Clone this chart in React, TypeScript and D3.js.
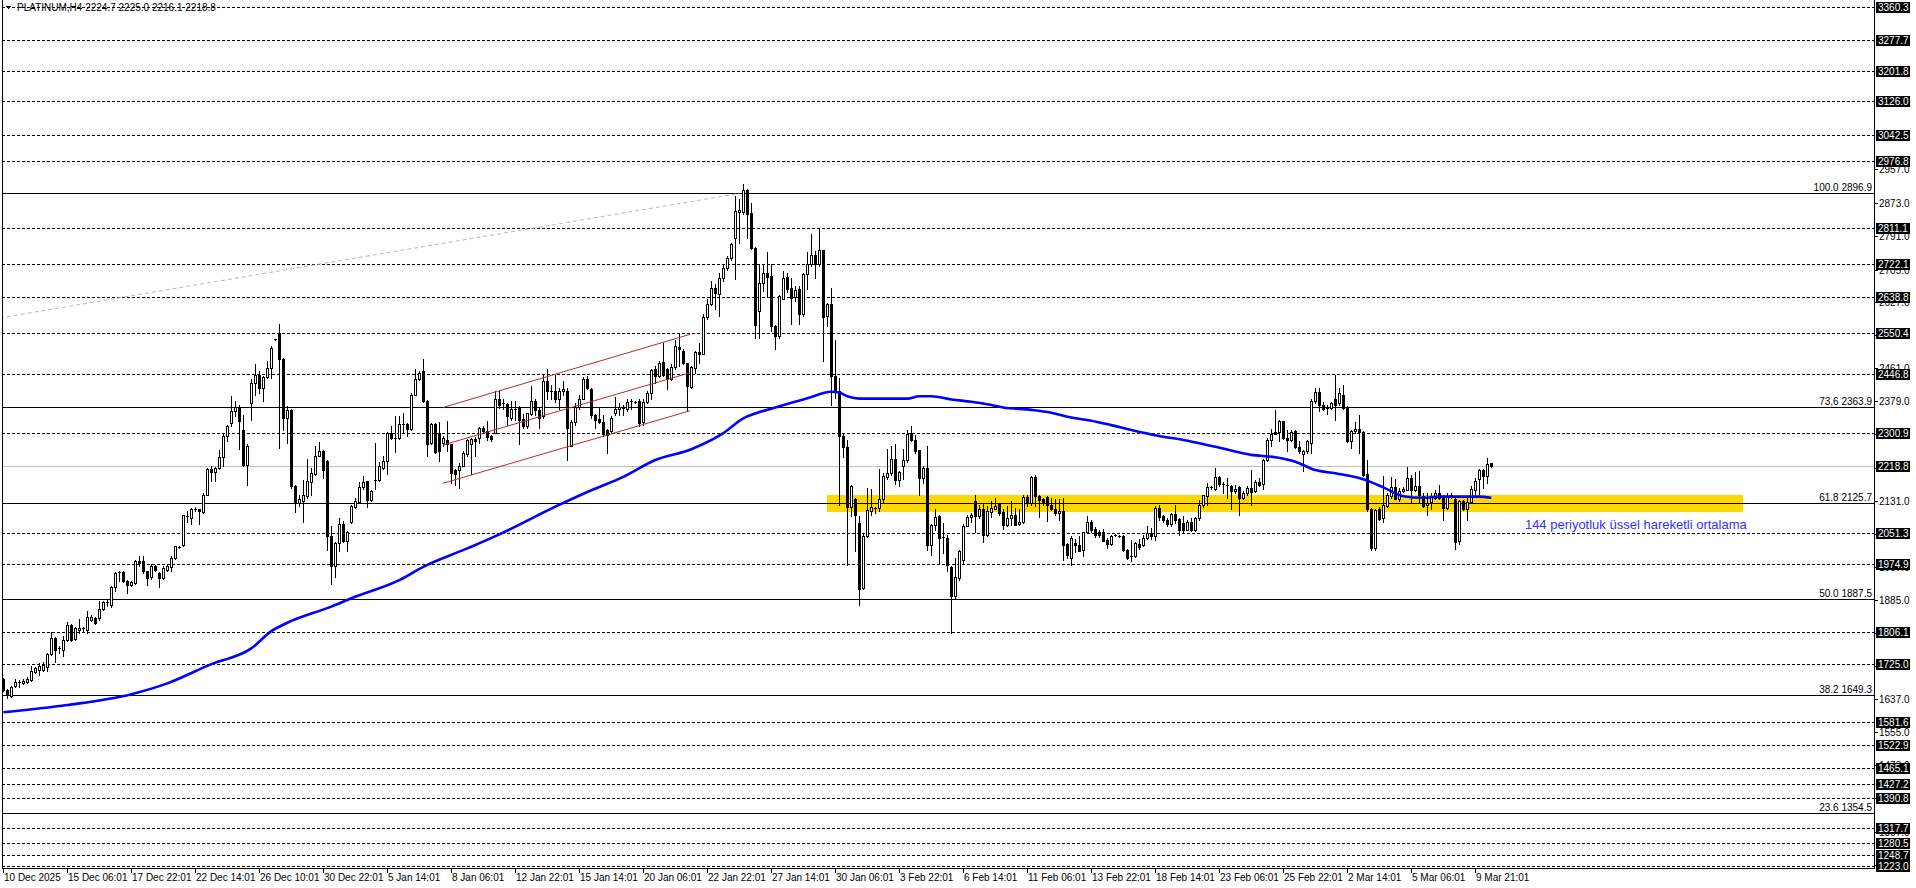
import React from 'react';
import * as d3 from 'd3';

// ---------------- DATA ----------------
const SYMBOL_HEADER = 'PLATINUM,H4  2224.7 2225.0 2216.1 2218.8';

const opens = [
1688,1661,1646,1671,1677,1678,1680,1686,1706,1711,
1711,1717,1750,1789,1762,1760,1785,1823,1787,1811,
1812,1810,1836,1839,1839,1863,1876,1873,1917,1951,
1954,1933,1922,1927,1981,1981,1956,1942,1968,1952,
1939,1960,1966,1989,2016,2021,2091,2089,2110,2110,
2103,2147,2211,2204,2213,2241,2294,2325,2356,2366,
2309,2220,2376,2425,2445,2413,2440,2463,2533,2550,
2485,2337,2357,2168,2125,2130,2143,2179,2199,2244,
2255,2230,2043,1970,2027,2075,2031,2078,2116,2129,
2166,2180,2133,2182,2184,2214,2230,2301,2288,2288,
2322,2323,2311,2396,2434,2455,2381,2276,2323,2301,
2276,2282,2272,2208,2208,2219,2249,2274,2286,2288,
2313,2305,2294,2301,2385,2372,2373,2338,2359,2365,
2336,2317,2348,2381,2357,2342,2431,2405,2405,2384,
2406,2405,2269,2328,2366,2386,2434,2410,2346,2336,
2328,2307,2305,2349,2359,2363,2359,2378,2378,2381,
2328,2378,2400,2459,2442,2478,2459,2435,2465,2514,
2504,2474,2415,2463,2502,2498,2588,2621,2662,2647,
2687,2711,2735,2787,2850,2851,2906,2848,2762,2604,
2675,2698,2691,2567,2542,2635,2689,2661,2639,2658,
2596,2696,2721,2743,2721,2755,2591,2621,2442,2405,
2294,2266,2116,2135,2076,1914,2045,2105,2112,2114,
2135,2191,2201,2236,2183,2218,2234,2301,2282,2257,
2189,2212,2021,2072,2093,2041,2039,1966,1894,1939,
1983,2070,2091,2132,2093,2111,2047,2103,2111,2126,
2103,2072,2089,2095,2075,2079,2141,2125,2191,2143,
2135,2141,2120,2111,2100,2105,2025,1989,2026,2022,
2010,2053,2078,2061,2053,2053,2033,2025,2044,2043,
2045,2010,1993,1993,2025,2022,2039,2051,2045,2114,
2093,2085,2075,2099,2087,2076,2060,2079,2060,2089,
2122,2143,2164,2162,2191,2174,2172,2169,2155,2166,
2139,2151,2164,2155,2179,2174,2233,2282,2304,2302,
2330,2288,2282,2305,2266,2247,2255,2276,2380,2402,
2371,2363,2363,2384,2376,2396,2363,2280,2305,2311,
2303,2199,2111,2014,2110,2089,2118,2143,2166,2136,
2155,2159,2189,2158,2169,2143,2120,2128,2139,2150,
2139,2114,2143,2136,2031,2130,2110,2128,2159,2186,
2209,2193,2224.7];

const highs = [
1690,1663,1671,1688,1686,1689,1694,1720,1718,1727,
1729,1752,1804,1792,1769,1794,1830,1826,1818,1837,
1817,1858,1848,1842,1883,1883,1884,1920,1955,1958,
1957,1935,1932,1984,1993,1993,1958,1975,1972,1955,
1968,1975,1993,2020,2019,2097,2105,2114,2115,2112,
2151,2214,2218,2216,2259,2297,2321,2392,2380,2371,
2346,2272,2434,2471,2455,2442,2480,2517,2535,2571,
2487,2367,2360,2170,2147,2184,2236,2214,2269,2278,
2257,2233,2070,2029,2089,2081,2056,2121,2139,2178,
2193,2182,2158,2276,2229,2243,2304,2317,2342,2342,
2351,2325,2399,2459,2455,2484,2383,2325,2326,2327,
2294,2330,2274,2210,2226,2255,2285,2288,2290,2315,
2318,2330,2296,2405,2405,2384,2376,2381,2381,2367,
2347,2351,2417,2386,2363,2446,2460,2421,2446,2413,
2431,2413,2334,2376,2394,2440,2442,2412,2348,2363,
2346,2310,2342,2390,2376,2371,2384,2386,2380,2386,
2386,2405,2459,2467,2480,2525,2461,2471,2533,2546,
2509,2475,2467,2504,2525,2596,2633,2679,2671,2700,
2721,2740,2773,2891,2884,2920,2908,2874,2764,2721,
2721,2750,2721,2570,2643,2704,2700,2687,2667,2667,
2700,2750,2795,2754,2810,2757,2625,2662,2531,2438,
2301,2284,2171,2138,2093,2048,2164,2160,2116,2211,
2201,2261,2268,2272,2205,2261,2307,2319,2296,2259,
2219,2268,2074,2111,2095,2076,2047,1968,1989,2010,
2075,2097,2101,2147,2122,2126,2118,2130,2139,2127,
2110,2118,2130,2114,2111,2147,2147,2194,2197,2147,
2139,2143,2139,2135,2136,2139,2027,2043,2036,2043,
2055,2093,2085,2066,2060,2061,2039,2047,2048,2046,
2047,2011,2035,2028,2036,2047,2070,2064,2118,2120,
2097,2089,2101,2120,2089,2093,2085,2089,2091,2133,
2147,2176,2169,2214,2194,2178,2189,2171,2172,2168,
2155,2169,2209,2184,2189,2236,2288,2311,2357,2334,
2331,2309,2307,2309,2280,2259,2284,2384,2413,2413,
2377,2371,2377,2446,2413,2421,2367,2309,2327,2346,
2305,2232,2113,2110,2116,2193,2150,2191,2186,2164,
2166,2216,2197,2203,2205,2150,2150,2150,2158,2172,
2147,2150,2150,2139,2133,2133,2139,2168,2189,2211,
2211,2238,2225.0];

const lows = [
1658,1640,1644,1669,1669,1676,1678,1684,1702,1698,
1708,1709,1748,1731,1752,1745,1782,1782,1785,1802,
1808,1802,1833,1824,1835,1860,1870,1868,1906,1931,
1930,1903,1919,1924,1968,1952,1922,1938,1957,1917,
1936,1957,1956,1986,2014,2020,2078,2075,2105,2075,
2101,2145,2180,2180,2210,2218,2280,2317,2342,2261,
2218,2172,2332,2396,2399,2380,2438,2438,2532,2263,
2309,2276,2164,2104,2118,2078,2139,2147,2197,2243,
2189,2010,1924,1942,2006,2028,2006,2076,2114,2125,
2160,2116,2130,2160,2182,2211,2199,2285,2253,2286,
2301,2292,2308,2394,2432,2377,2243,2272,2250,2230,
2268,2255,2176,2172,2164,2217,2243,2199,2243,2276,
2300,2284,2280,2300,2363,2361,2321,2334,2334,2274,
2313,2313,2346,2346,2313,2338,2384,2384,2377,2361,
2396,2234,2267,2321,2359,2384,2410,2338,2313,2325,
2294,2251,2301,2346,2346,2346,2355,2360,2375,2317,
2321,2376,2386,2425,2440,2442,2409,2432,2459,2467,
2471,2355,2413,2450,2475,2496,2583,2618,2608,2592,
2679,2707,2731,2683,2773,2845,2787,2758,2538,2538,
2654,2642,2554,2509,2538,2633,2652,2571,2629,2571,
2592,2658,2716,2687,2716,2479,2567,2371,2388,2122,
2241,1972,2093,2006,1873,1911,2041,2097,2101,2105,
2126,2186,2197,2174,2168,2186,2228,2280,2251,2147,
2176,2010,1997,2060,1977,2002,1956,1802,1889,1935,
1974,2068,2080,2055,2089,2028,2045,2091,2110,2097,
2061,2070,2072,2072,2072,2076,2118,2122,2118,2091,
2122,2081,2108,2097,2085,1985,1989,1972,2005,2006,
1993,2051,2055,2041,2041,2031,2014,2022,2043,2042,
2006,1987,1981,1991,2011,2020,2037,2036,2035,2085,
2078,2070,2068,2076,2047,2053,2058,2056,2056,2085,
2116,2122,2161,2159,2169,2150,2139,2111,2151,2097,
2135,2145,2122,2153,2168,2161,2230,2269,2297,2280,
2286,2255,2280,2263,2251,2205,2251,2251,2376,2355,
2357,2347,2361,2334,2371,2359,2277,2263,2301,2251,
2194,2105,2010,2008,2085,2080,2116,2139,2135,2130,
2153,2158,2126,2155,2126,2116,2097,2110,2135,2135,
2085,2111,2139,2011,2025,2108,2085,2126,2149,2149,
2164,2176,2216.1];

const closes = [
1661,1648,1669,1680,1681,1684,1688,1709,1715,1720,
1723,1750,1789,1760,1764,1785,1823,1785,1814,1814,
1814,1842,1843,1827,1862,1879,1879,1917,1952,1954,
1933,1921,1929,1981,1977,1956,1939,1970,1960,1939,
1964,1968,1989,2018,2017,2095,2093,2110,2111,2105,
2145,2211,2203,2213,2241,2294,2317,2356,2366,2330,
2220,2269,2425,2445,2413,2440,2463,2513,2534,2485,
2338,2357,2168,2125,2136,2147,2180,2201,2244,2255,
2208,2043,1970,2027,2075,2031,2053,2118,2130,2166,
2178,2133,2155,2184,2218,2230,2301,2288,2287,2323,
2323,2311,2396,2434,2449,2380,2273,2323,2253,2255,
2288,2272,2201,2199,2219,2251,2282,2286,2280,2312,
2305,2291,2286,2386,2371,2375,2342,2359,2361,2334,
2317,2349,2381,2357,2338,2431,2405,2403,2384,2406,
2409,2313,2328,2366,2386,2434,2413,2344,2334,2327,
2297,2295,2338,2361,2365,2359,2378,2380,2377,2326,
2378,2400,2457,2442,2474,2446,2434,2465,2517,2509,
2475,2417,2465,2502,2498,2590,2621,2662,2650,2687,
2711,2735,2770,2852,2856,2906,2845,2760,2569,2675,
2698,2690,2567,2542,2642,2687,2658,2637,2656,2596,
2696,2721,2743,2721,2755,2588,2622,2442,2407,2293,
2266,2116,2169,2097,1912,2045,2108,2116,2114,2136,
2193,2201,2236,2183,2203,2234,2299,2282,2255,2189,
2214,2021,2072,2091,2039,2039,1971,1894,1941,2007,
2070,2091,2095,2093,2111,2047,2105,2114,2118,2101,
2072,2089,2095,2072,2079,2141,2125,2191,2143,2133,
2128,2120,2110,2100,2105,2022,1997,2039,2022,2007,
2053,2078,2060,2047,2047,2032,2025,2045,2046,2045,
2010,1989,1991,2026,2016,2039,2051,2043,2114,2090,
2083,2075,2099,2085,2060,2060,2078,2058,2089,2122,
2145,2166,2166,2191,2174,2172,2170,2155,2162,2139,
2151,2164,2154,2179,2170,2234,2282,2297,2299,2330,
2288,2284,2303,2266,2255,2255,2280,2380,2402,2371,
2361,2361,2374,2371,2399,2363,2280,2305,2311,2302,
2197,2110,2014,2108,2086,2120,2145,2166,2136,2155,
2161,2189,2158,2169,2145,2118,2126,2141,2151,2139,
2114,2143,2145,2028,2130,2110,2128,2161,2182,2209,
2193,2223,2218.8];

// 144-period EMA (bar index, value)
const emaBars = [0, 16, 32, 41, 52, 62, 67, 71, 82, 87, 99, 105, 116, 124, 138, 147, 155, 163, 172,
  180, 185, 188, 193, 201, 207, 209, 211, 214, 226, 229, 232, 237, 242, 246, 250, 257, 262, 267, 272,
  277, 282, 289, 295, 303, 312, 318, 323, 328, 333, 340, 345, 350, 355, 359, 369, 372];
const emaValues = [1605, 1623, 1650, 1677, 1725, 1764, 1807, 1828, 1868, 1889, 1934, 1967, 2013, 2048, 2117, 2158, 2191, 2233, 2260,
  2300, 2337, 2349, 2364, 2387, 2403, 2401, 2392, 2386, 2386, 2392, 2392, 2384, 2378, 2372, 2364, 2358, 2351, 2339, 2331,
  2320, 2308, 2293, 2283, 2266, 2246, 2240, 2229, 2208, 2200, 2185, 2165, 2143, 2139, 2142, 2142, 2139];

// time axis: one label every 16 bars
const timeLabels = [
  '10 Dec 2025', '15 Dec 06:01', '17 Dec 22:01', '22 Dec 14:01', '26 Dec 10:01', '30 Dec 22:01',
  '5 Jan 14:01', '8 Jan 06:01', '12 Jan 22:01', '15 Jan 14:01', '20 Jan 06:01', '22 Jan 22:01',
  '27 Jan 14:01', '30 Jan 06:01', '3 Feb 22:01', '6 Feb 14:01', '11 Feb 06:01', '13 Feb 22:01',
  '18 Feb 14:01', '23 Feb 06:01', '25 Feb 22:01', '2 Mar 14:01', '5 Mar 06:01', '9 Mar 21:01',
];
const LABEL_EVERY = 16;

// price scale ticks
const priceTicks = [2957.0, 2873.0, 2791.0, 2705.0, 2627.0, 2544.0, 2461.0, 2379.0, 2297.0, 2213.0,
  2131.0, 2049.0, 1967.0, 1885.0, 1803.0, 1721.0, 1637.0, 1555.0, 1473.0, 1391.0, 1307.0, 1225.0];

// dashed horizontal levels
const hLevels = [3360.3, 3277.7, 3201.8, 3126.0, 3042.5, 2976.8, 2811.1, 2722.1, 2638.8, 2550.4,
  2446.8, 2300.9, 2051.3, 1974.9, 1806.1, 1725.0, 1581.6, 1522.9, 1465.1, 1427.2, 1390.8,
  1317.7, 1280.5, 1248.7, 1223.0];
const bidPrice = 2218.8;

// Fibonacci retracement
const fibLowBar = -1020;
const fibLowPrice = 878.1;
const fibHighBar = 184;
const fibHighPrice = 2896.9;
const fibRatios = [1.0, 0.736, 0.618, 0.5, 0.382, 0.236];
const fibNames = ['100.0', '73,6', '61.8', '50.0', '38.2', '23.6'];

// rising channel (three parallel lines)
const channelStartBar = 109.9;
const channelEndBar = 171.7;
const channelStartPrices = [2363.9, 2270.5, 2175.1];
const channelEndPrices = [2546.1, 2450.5, 2355.9];

// yellow zone
const zoneBars = [206, 434.85];
const zonePrices = [2104.5, 2146];

// annotation
const noteText = '144 periyotluk üssel hareketli ortalama';
const noteBar = 380.4;
const notePrice = 2060.6;

// ---------------- CHART ----------------
const W = 1916;
const H = 888;
const L = 2;
const R = 1874;
const B = 868;
const FONT = '"Liberation Sans", Arial, sans-serif';

export default function App() {
  const x = d3.scaleLinear().domain([-0.33, 467.67]).range([L, R]);
  const y = d3.scaleLinear().domain([1217.3, 3378.5]).range([B, 0]);
  const n = closes.length;

  const emaPath =
    d3
      .line<number>()
      .x((_, i) => x(emaBars[i]))
      .y((d) => y(d))
      .curve(d3.curveMonotoneX)(emaValues) || '';

  const snapY = (p: number) => Math.round(y(p)) + 0.5;

  const fibRange = fibHighPrice - fibLowPrice;
  const fibLevels = fibRatios.map((r) => fibLowPrice + fibRange * r);

  const candles = d3.range(n).map((i) => {
    const cx = Math.floor(x(i));
    const o = opens[i], c = closes[i], h = highs[i], l = lows[i];
    const top = Math.round(y(Math.max(o, c)));
    const bot = Math.round(y(Math.min(o, c)));
    const yh = Math.round(y(h));
    const yl = Math.round(y(l));
    const bull = c >= o;
    const hgt = Math.max(bot - top, 1);
    return (
      <g key={i}>
        <line x1={cx + 0.5} x2={cx + 0.5} y1={yh} y2={yl + 1} stroke="#000" strokeWidth={1} />
        {bull ? (
          bot - top <= 1 ? (
            <rect x={cx - 1} y={top} width={3} height={1} fill="#000" />
          ) : (
            <rect x={cx - 0.5} y={top + 0.5} width={2} height={hgt} fill="#fff" stroke="#000" strokeWidth={1} />
          )
        ) : (
          <rect x={cx - 1} y={top} width={3} height={hgt + (bot - top <= 1 ? 0 : 1)} fill="#000" />
        )}
      </g>
    );
  });

  const labelBox = (p: number, key: string) => {
    const yy = Math.round(y(p));
    return (
      <g key={key}>
        <rect x={1876} y={yy - 5} width={34} height={11} fill="#000" />
        <text x={1878} y={yy + 4} fontSize={10} fill="#fff" fontFamily={FONT}>{p.toFixed(1)}</text>
      </g>
    );
  };

  const trendX0 = x.invert(0);
  const trendP0 = fibLowPrice + (fibHighPrice - fibLowPrice) * (trendX0 - fibLowBar) / (fibHighBar - fibLowBar);

  return (
    <>
      <style>{`html,body{margin:0;padding:0;overflow:hidden;background:#fff}`}</style>
      <svg width={W} height={H} style={{ display: 'block' }} shapeRendering="crispEdges">
        <rect x={0} y={0} width={W} height={H} fill="#fff" />
        <defs>
          <clipPath id="plot">
            <rect x={L} y={0} width={R - L} height={B} />
          </clipPath>
        </defs>

        <g clipPath="url(#plot)">
          {/* yellow zone */}
          <rect
            x={Math.round(x(zoneBars[0]))}
            y={Math.round(y(zonePrices[1]))}
            width={Math.round(x(zoneBars[1])) - Math.round(x(zoneBars[0]))}
            height={Math.round(y(zonePrices[0])) - Math.round(y(zonePrices[1]))}
            fill="#FFD700"
          />
          {/* dashed levels */}
          {hLevels.map((p, k) => (
            <line key={'h' + k} x1={L} x2={R} y1={snapY(p)} y2={snapY(p)} stroke="#000" strokeDasharray="3,2" />
          ))}
          {/* bid line */}
          <line x1={L} x2={R} y1={snapY(bidPrice)} y2={snapY(bidPrice)} stroke="#C0C0C0" />
          {/* fib levels */}
          {fibLevels.map((p, k) => (
            <line key={'f' + k} x1={L} x2={R} y1={snapY(p)} y2={snapY(p)} stroke="#000" />
          ))}
          {/* fib trend (dashed gray) */}
          <line
            x1={0}
            y1={y(trendP0)}
            x2={x(fibHighBar)}
            y2={y(fibHighPrice)}
            stroke="#B8B8B8"
            strokeDasharray="4,3"
            shapeRendering="auto"
          />
          {/* candles */}
          {candles}
          {/* channel */}
          {channelStartPrices.map((p, k) => (
            <line
              key={'c' + k}
              x1={x(channelStartBar)}
              y1={y(p)}
              x2={x(channelEndBar)}
              y2={y(channelEndPrices[k])}
              stroke="#C0282D"
              strokeWidth={1}
              shapeRendering="auto"
            />
          ))}
          {/* EMA */}
          <path d={emaPath} fill="none" stroke="#0000FF" strokeWidth={2.6} shapeRendering="auto" />
        </g>

        {/* fib labels */}
        {fibLevels.map((p, k) => (
          <text key={'fl' + k} x={R - 2} y={Math.round(y(p)) - 2} fontSize={10} textAnchor="end" fill="#000" fontFamily={FONT}>
            {fibNames[k]} {p.toFixed(1)}
          </text>
        ))}

        {/* annotation */}
        <text x={x(noteBar)} y={y(notePrice)} fontSize={13} fill="#3333FF" fontFamily={FONT}>{noteText}</text>

        {/* header */}
        <path d="M5,6 L11,6 L8,9 Z" fill="#000" />
        <text x={17} y={11} fontSize={10} fill="#000" fontFamily={FONT}>{SYMBOL_HEADER}</text>

        {/* frame */}
        <line x1={L + 0.5} x2={L + 0.5} y1={0} y2={B} stroke="#000" />
        <line x1={R + 0.5} x2={R + 0.5} y1={0} y2={B + 1} stroke="#000" />
        <line x1={L} x2={R + 1} y1={B + 0.5} y2={B + 0.5} stroke="#000" />

        {/* price axis */}
        {priceTicks.map((p, k) => {
          const yy = Math.round(y(p));
          return (
            <g key={'pt' + k}>
              <line x1={R} x2={R + 4} y1={yy + 0.5} y2={yy + 0.5} stroke="#000" />
              <text x={1879} y={yy + 4} fontSize={10} fill="#000" fontFamily={FONT}>{p.toFixed(1)}</text>
            </g>
          );
        })}
        {hLevels.map((p, k) => labelBox(p, 'lb' + k))}
        {labelBox(bidPrice, 'bid')}

        {/* time axis */}
        {timeLabels.map((t, k) => {
          const xx = Math.floor(x(k * LABEL_EVERY));
          return (
            <g key={'tl' + k}>
              <line x1={xx + 0.5} x2={xx + 0.5} y1={B} y2={B + 5} stroke="#000" />
              <text x={xx + 1} y={881} fontSize={10} fill="#000" fontFamily={FONT}>{t}</text>
            </g>
          );
        })}
      </svg>
    </>
  );
}
